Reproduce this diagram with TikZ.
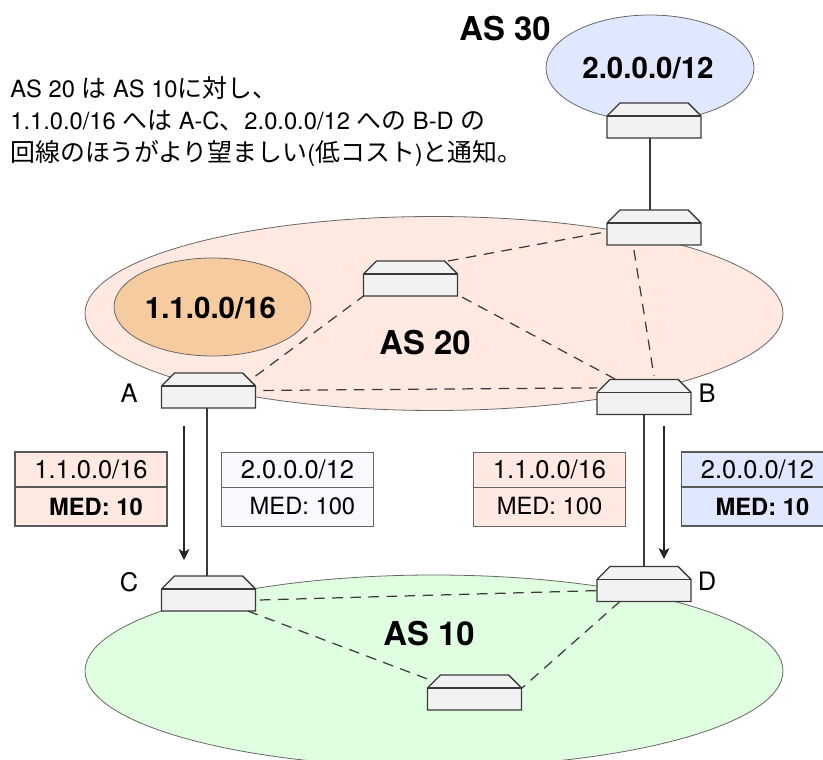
\documentclass[tikz,border=0pt]{standalone}
\usepackage{fontspec}
\setmainfont{TeX Gyre Heros}
\newfontfamily\cjk[Scale=1.05]{Noto Sans CJK JP}
\usetikzlibrary{arrows.meta}
\definecolor{areared}{HTML}{FFE9E1}
\definecolor{areablue}{HTML}{E0E8FF}
\definecolor{areagreen}{HTML}{E0FFE0}
\definecolor{areaorange}{HTML}{F5CB9F}
\definecolor{palewhite}{HTML}{F8F9FF}
\definecolor{routergray}{HTML}{F2F2F2}
\definecolor{inkgray}{HTML}{3A3A3A}
\tikzset{>={Stealth[length=2.2mm,width=2.2mm,inset=0.6mm]}}
\tikzset{
	area/.style={draw=black!60,line width=0.45pt},
	routerbox/.style={rectangle,minimum width=1.88cm,minimum height=0.7cm,inner sep=0pt,outer sep=0pt},
	routerline/.style={draw=inkgray,fill=routergray,line width=0.8pt,line join=miter},
	link/.style={draw=inkgray,line width=0.7pt},
	peer/.style={draw=inkgray,line width=0.7pt,dash pattern=on 6pt off 4.3pt},
	flow/.style={draw=black!85,line width=0.6pt,->},
	bigtext/.style={font=\fontsize{18.7}{20}\selectfont\bfseries},
	nettext/.style={font=\fontsize{16.8}{20}\selectfont\bfseries},
	routertext/.style={font=\fontsize{14.5}{16}\selectfont},
	medhead/.style={rectangle,draw=black!60,line width=0.5pt,minimum width=3.04cm,minimum height=0.7cm,inner sep=0pt,outer sep=0pt,font=\fontsize{14.5}{16}\selectfont},
	medbody/.style={rectangle,draw=black!60,line width=0.5pt,minimum width=3.04cm,minimum height=0.78cm,inner sep=0pt,outer sep=0pt,font=\fontsize{13.5}{16}\selectfont},
	chosen/.style={draw=black!65,line width=0.6pt},
}
\newcommand{\router}[2]{%
	\node[routerbox] (#1) at (#2) {};
	\draw[routerline] (#1.south west) -- ++(0,-22) -- ++(13,-13) -- ++(68,0) -- ++(13,13) -- ++(0,22) -- cycle;
	\draw[routerline] (#1.south west) ++(0,-22) -- ++(94,0);
}
\begin{document}
\begin{tikzpicture}[x=0.02cm,y=-0.02cm]
	\clip (0,0) rectangle (823,760);
	\draw[area,fill=areablue] (650,68) ellipse [x radius=104,y radius=53];
	\draw[area,fill=areared] (434,313.5) ellipse [x radius=349,y radius=97];
	\draw[area,fill=areaorange] (212.5,307) ellipse [x radius=98.5,y radius=49];
	\draw[area,fill=areagreen] (434,671) ellipse [x radius=349,y radius=96];

	\router{rThirty}{654,120.5}
	\router{rTop}{654,227.5}
	\router{rMid}{410.5,278.5}
	\router{rA}{208.5,390.5}
	\router{rB}{644,397}
	\router{rC}{208.5,593.5}
	\router{rD}{644,584}
	\router{rLow}{474.5,692.5}

	\draw[link] (rThirty.-103) -- (rTop.103);
	\draw[link] (rA.-95) -- (rC.95);
	\draw[link] (rB.south) -- (rD.north);

	\draw[peer] (rA.17) -- (rMid.south west);
	\draw[peer,shorten <=4.5pt] (rA.east) -- (rB.169);
	\draw[peer] (rMid.25) -- (rTop.185);
	\draw[peer,shorten <=3pt] (rMid.-19) -- (rB.148);
	\draw[peer,shorten <=3pt,shorten >=2pt] (rTop.-140) -- (rB.59);
	\draw[peer,shorten <=2.5pt] (rC.-8) -- (rD.188);
	\draw[peer] (rC.-24) -- (rLow.164);
	\draw[peer] (rD.-144) -- (rLow.5);

	\coordinate (flowAstart) at (184,426);
	\coordinate (flowAend) at (184,560);
	\coordinate (flowBstart) at (664,426);
	\coordinate (flowBend) at (664,559);
	\draw[flow] (flowAstart) -- (flowAend);
	\draw[flow] (flowBstart) -- (flowBend);

	\node[medhead,fill=areared,chosen] (tabOneHead) at (91,469.5) {1.1.0.0/16};
	\node[medbody,fill=areared,chosen] (tabOneBody) at (91,506.5) {\hspace{5.6pt}\textbf{MED: 10}};
	\node[medhead,fill=palewhite] (tabTwoHead) at (297.5,469.5) {2.0.0.0/12};
	\node[medbody,fill=palewhite] (tabTwoBody) at (297.5,506.5) {\hspace{5.6pt}MED: 100};
	\node[medhead,fill=areared] (tabThreeHead) at (549.5,469.5) {1.1.0.0/16};
	\node[medbody,fill=areared] (tabThreeBody) at (549.5,506.5) {MED: 100};
	\node[medhead,fill=areablue,chosen] (tabFourHead) at (757.5,469.5) {2.0.0.0/12};
	\node[medbody,fill=areablue,chosen] (tabFourBody) at (757.5,506.5) {\hspace{5.6pt}\textbf{MED: 10}};

	\node[bigtext] (asThirty) at (505,29) {AS 30};
	\node[bigtext] (asTwenty) at (425,343) {AS 20};
	\node[bigtext] (asTen) at (429,634) {AS 10};
	\node[nettext] (netTwo) at (648,68) {2.0.0.0/12};
	\node[nettext] (netOne) at (210.5,308) {1.1.0.0/16};
	\node[routertext] (labA) at (129,393) {A};
	\node[routertext] (labB) at (707,393) {B};
	\node[routertext] (labC) at (129,582) {C};
	\node[routertext] (labD) at (707,581) {D};

	\node[anchor=north west,align=left,inner sep=0pt,font=\fontsize{13.5}{18.2}\selectfont] (notice) at (10,76) {AS 20 {\cjk は} AS 10{\cjk に対し、}\\1.1.0.0/16 {\cjk へは} A-C{\cjk 、}2.0.0.0/12 {\cjk への} B-D {\cjk の}\\{\cjk 回線のほうがより望ましい}({\cjk 低コスト}){\cjk と通知。}};
\end{tikzpicture}
\end{document}
